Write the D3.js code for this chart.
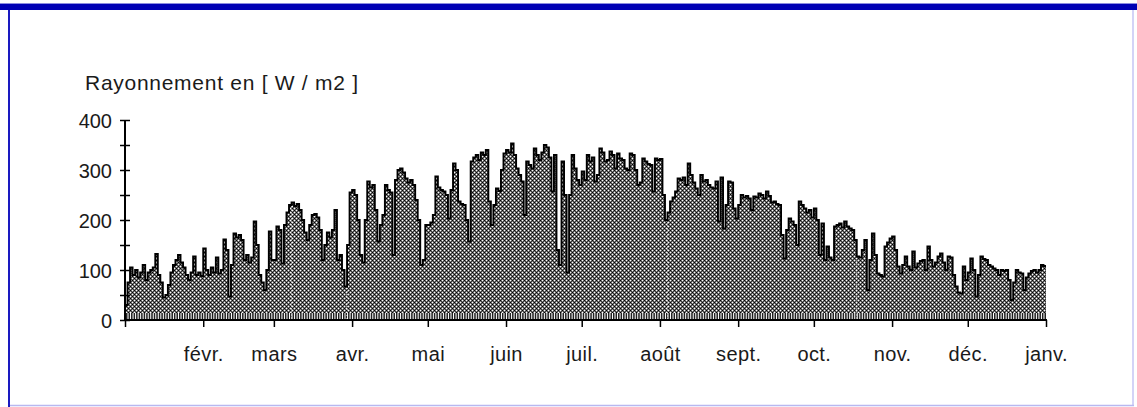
<!DOCTYPE html>
<html>
<head>
<meta charset="utf-8">
<script src="https://cdn.jsdelivr.net/npm/d3@7"></script>
<style>
  html, body { margin: 0; padding: 0; background: #fff; }
  svg { display: block; }
  .lbl { font-family: "Liberation Sans", Arial, sans-serif; font-size: 20px; fill: #1a1a1a; }
</style>
</head>
<body>
<div id="chart"></div>
<script>
// daily mean radiation [W/m2], one array per month
const jan = [30, 75, 105, 90, 100, 85, 95, 110, 80, 95, 100, 105, 132, 90, 75, 45, 50, 70, 95, 110, 120, 130, 115, 105, 90, 80, 95, 127, 90, 95, 88];
const feb = [143, 100, 90, 105, 95, 125, 93, 100, 161, 140, 47, 110, 173, 165, 170, 160, 120, 130, 115, 125, 197, 150, 90, 75, 60, 100, 177, 120];
const mar = [120, 187, 180, 113, 190, 215, 230, 235, 228, 232, 220, 200, 175, 160, 190, 210, 212, 205, 180, 120, 150, 175, 165, 180, 220, 120, 130, 100, 67, 150, 255];
const apr = [260, 250, 200, 130, 115, 200, 277, 265, 270, 220, 157, 190, 210, 270, 260, 255, 130, 280, 300, 303, 295, 283, 275, 280, 270, 240, 200, 110, 120, 190];
const may = [190, 195, 210, 287, 265, 260, 257, 250, 203, 260, 313, 300, 237, 232, 230, 200, 157, 317, 325, 330, 320, 335, 330, 340, 237, 190, 230, 263, 258, 300, 333];
const jun = [340, 335, 353, 330, 303, 290, 277, 210, 317, 310, 303, 343, 330, 320, 335, 350, 345, 325, 257, 330, 140, 110, 317, 250, 95, 250, 330, 303, 280, 270];
const jul = [297, 280, 330, 317, 325, 277, 290, 343, 335, 317, 320, 337, 330, 303, 333, 323, 320, 303, 300, 333, 330, 300, 270, 275, 323, 317, 312, 310, 257, 323, 320];
const aug = [322, 250, 200, 215, 237, 245, 257, 283, 280, 285, 270, 313, 290, 275, 263, 250, 290, 277, 280, 270, 265, 263, 277, 197, 285, 183, 230, 277, 275, 223, 203];
const sep = [230, 250, 245, 248, 243, 220, 247, 245, 253, 250, 243, 257, 248, 235, 237, 232, 230, 170, 123, 180, 203, 197, 190, 150, 237, 230, 223, 215, 220, 205];
const oct = [223, 200, 130, 193, 120, 147, 125, 120, 187, 190, 193, 185, 197, 187, 183, 180, 160, 127, 125, 140, 160, 60, 120, 173, 130, 93, 90, 87, 147, 155, 163];
const nov = [167, 140, 107, 93, 110, 127, 107, 100, 137, 105, 113, 118, 120, 100, 147, 120, 107, 115, 127, 133, 115, 100, 127, 125, 90, 67, 55, 53, 107, 80];
const dec = [95, 123, 100, 47, 90, 127, 122, 120, 110, 107, 103, 100, 90, 100, 98, 100, 80, 40, 75, 100, 95, 93, 60, 85, 93, 98, 100, 95, 100, 110, 108];

const monthLabels = ["", "févr.", "mars", "avr.", "mai", "juin", "juil.", "août", "sept.", "oct.", "nov.", "déc.", "janv."];
const yTicks = [0, 50, 100, 150, 200, 250, 300, 350, 400];
const yLabelled = [0, 100, 200, 300, 400];
// days where the fill shows a dotted white break
const gapDays = [66, 88, 215, 290];
const yTitle = "Rayonnement en [ W / m2 ]";

const W = 1137, H = 407;
const margin = { left: 125, right: 91, top: 120, bottom: 87 };

const start = new Date(2001, 0, 1);
const end = new Date(2002, 0, 1);
const values = [].concat(jan, feb, mar, apr, may, jun, jul, aug, sep, oct, nov, dec);
const data = values.map((v, i) => ({ date: d3.timeDay.offset(start, i), value: v }));
// closing point so the last day has its own step
data.push({ date: end, value: values[values.length - 1] });

const svg = d3.select("#chart").append("svg").attr("width", W).attr("height", H);

// window frame
svg.append("rect").attr("x", 0).attr("y", 0).attr("width", W).attr("height", H).attr("fill", "#fff");
svg.append("line").attr("x1", 1133).attr("x2", 1133).attr("y1", 8).attr("y2", 405)
  .attr("stroke", "#c4c4f4").attr("stroke-width", 1.5);
svg.append("line").attr("x1", 9).attr("x2", 1134).attr("y1", 405.5).attr("y2", 405.5)
  .attr("stroke", "#b8b8f0").attr("stroke-width", 1.5);
svg.append("line").attr("x1", 9).attr("x2", 9).attr("y1", 4).attr("y2", 407)
  .attr("stroke", "#1a1ac0").attr("stroke-width", 2);
svg.append("rect").attr("x", 0).attr("y", 4).attr("width", W).attr("height", 6).attr("fill", "#0000b4");
svg.append("line").attr("x1", 0).attr("x2", W).attr("y1", 3.5).attr("y2", 3.5).attr("stroke", "#8c8ce0");

const x = d3.scaleTime().domain([start, end]).range([margin.left, W - margin.right]);
const y = d3.scaleLinear().domain([0, 400]).range([H - margin.bottom, margin.top]);

// dithered grey fill
const defs = svg.append("defs");
const pat = defs.append("pattern").attr("id", "dither")
  .attr("patternUnits", "userSpaceOnUse").attr("width", 4).attr("height", 4);
pat.append("rect").attr("width", 4).attr("height", 4).attr("fill", "#7a7a7a");
[[0, 0, "#000"], [2, 2, "#000"], [2, 0, "#fff"], [0, 2, "#fff"],
 [1, 1, "#3a3a3a"], [3, 3, "#3a3a3a"], [1, 3, "#3a3a3a"], [3, 1, "#3a3a3a"]].forEach(function (p) {
  pat.append("rect").attr("x", p[0]).attr("y", p[1]).attr("width", 1).attr("height", 1).attr("fill", p[2]);
});

const area = d3.area()
  .x(d => x(d.date)).y0(y(0)).y1(d => y(d.value))
  .curve(d3.curveStepAfter);
const line = d3.line()
  .x(d => x(d.date)).y(d => y(d.value))
  .curve(d3.curveStepAfter);

svg.append("path").datum(data).attr("d", area).attr("fill", "url(#dither)");

// comb of daily marks along the base of the fill
svg.append("rect").attr("x", x(start)).attr("y", y(14)).attr("width", x(end) - x(start))
  .attr("height", y(0) - y(14)).attr("fill", "#222");
svg.append("g")
  .attr("transform", "translate(0," + y(0) + ")")
  .call(d3.axisBottom(x).ticks(d3.timeDay.every(1)).tickSize(-7).tickFormat(""))
  .call(g => g.select(".domain").remove())
  .call(g => g.selectAll(".tick line").attr("stroke", "#fff").attr("stroke-width", 1));

// dotted breaks in the fill
svg.append("g").selectAll("line")
  .data(gapDays)
  .join("line")
  .attr("x1", d => x(d3.timeDay.offset(start, d)))
  .attr("x2", d => x(d3.timeDay.offset(start, d)))
  .attr("y1", d => y(values[d]) + 4)
  .attr("y2", y(0))
  .attr("stroke", "#fff").attr("stroke-width", 1).attr("stroke-dasharray", "1,2");

svg.append("path").datum(data).attr("d", line)
  .attr("fill", "none").attr("stroke", "#000").attr("stroke-width", 1.9);

// x axis with month ticks
const monthTicks = d3.timeMonth.range(start, d3.timeDay.offset(end, 1));
const xAxis = svg.append("g")
  .attr("transform", "translate(0," + y(0) + ")")
  .call(d3.axisBottom(x).tickValues(monthTicks).tickSize(7).tickPadding(20)
    .tickFormat((d, i) => monthLabels[i]));
xAxis.select(".domain").attr("stroke", "#000").attr("stroke-width", 2).attr("d", "M" + x(start) + ",0H" + (x(end) + 1));
xAxis.selectAll(".tick line").attr("stroke", "#000").attr("stroke-width", 1.5);
xAxis.selectAll(".tick text").attr("class", "lbl").attr("letter-spacing", "0.4px").attr("fill", null);

// y axis, ticks crossing the axis line
const yAxis = svg.append("g")
  .attr("transform", "translate(" + x(start) + ",0)")
  .call(d3.axisLeft(y).tickValues(yTicks).tickSize(5).tickPadding(8)
    .tickFormat(d => yLabelled.includes(d) ? d : ""));
yAxis.select(".domain").attr("stroke", "#000").attr("stroke-width", 2).attr("d", "M0," + y(0) + "V" + y(400));
yAxis.selectAll(".tick line").attr("x1", 5).attr("x2", -5).attr("stroke", "#000").attr("stroke-width", 1.5);
yAxis.selectAll(".tick text").attr("class", "lbl").attr("fill", null).attr("dy", "0.36em");

// axis title
svg.append("text").attr("class", "lbl")
  .attr("x", 85).attr("y", 90)
  .attr("textLength", 273).attr("lengthAdjust", "spacing")
  .style("font-size", "21px")
  .text(yTitle);
</script>
</body>
</html>
